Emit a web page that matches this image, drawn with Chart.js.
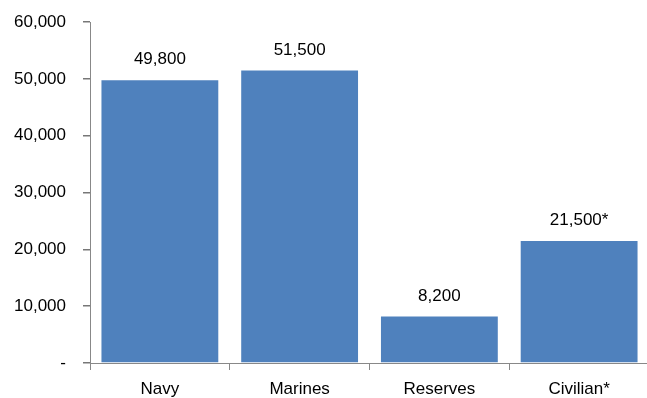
<!DOCTYPE html>
<html>
<head>
<meta charset="utf-8">
<script src="https://cdn.jsdelivr.net/npm/chart.js@4/dist/chart.umd.min.js"></script>
<style>
  html, body { margin: 0; padding: 0; background: #fff; overflow: hidden; }
  #wrap { width: 660px; height: 403px; margin-top: -5px; }
</style>
</head>
<body>
<div id="wrap"><canvas id="myChart"></canvas></div>
<script>
// dados do grafico
const categorias = ["Navy", "Marines", "Reserves", "Civilian*"];
const valores = [49800, 51500, 8200, 21500];
const rotulos = ["49,800", "51,500", "8,200", "21,500*"];
const yMax = 60000;
const yPasso = 10000;

const FONTE = "'Liberation Sans', Arial, sans-serif";

// rotulos em cima das barras
const rotulosPlugin = {
    id: "rotulos",
    afterDatasetsDraw(chart) {
        const ctx = chart.ctx;
        const meta = chart.getDatasetMeta(0);
        ctx.save();
        ctx.font = "17px " + FONTE;
        ctx.fillStyle = "#000";
        ctx.textAlign = "center";
        ctx.textBaseline = "bottom";
        meta.data.forEach((bar, i) => {
            ctx.fillText(rotulos[i], bar.x, bar.y - 12);
        });
        ctx.restore();
    },
};

new Chart(document.getElementById("myChart"), {
    type: "bar",
    data: {
        labels: categorias,
        datasets: [
            {
                data: valores,
                backgroundColor: "#4F81BD",
                borderWidth: 0,
                barPercentage: 0.836,
                categoryPercentage: 1,
            },
        ],
    },
    options: {
        responsive: true,
        maintainAspectRatio: false,
        animation: false,
        layout: { padding: { top: 13, right: 11, left: 0, bottom: 0 } },
        plugins: { legend: { display: false }, tooltip: { enabled: false } },
        scales: {
            x: {
                grid: { drawOnChartArea: false, drawTicks: true, tickLength: 7, color: "#888" },
                border: { display: true, color: "#888", width: 1 },
                ticks: { color: "#000", font: { size: 17, family: FONTE }, padding: 9 },
                afterFit: (s) => { s.height = 35; },
            },
            y: {
                min: 0,
                max: yMax,
                grid: { drawOnChartArea: false, drawTicks: true, tickLength: 7, color: "#777", lineWidth: 1.5 },
                border: { display: true, color: "#888", width: 1 },
                ticks: {
                    stepSize: yPasso,
                    color: "#000",
                    font: { size: 17, family: FONTE },
                    padding: 17,
                    callback: (v) => (v === 0 ? "-" : v.toLocaleString("en-US")),
                },
                afterFit: (s) => { s.width = 90; },
            },
        },
    },
    plugins: [rotulosPlugin],
});
</script>
</body>
</html>
